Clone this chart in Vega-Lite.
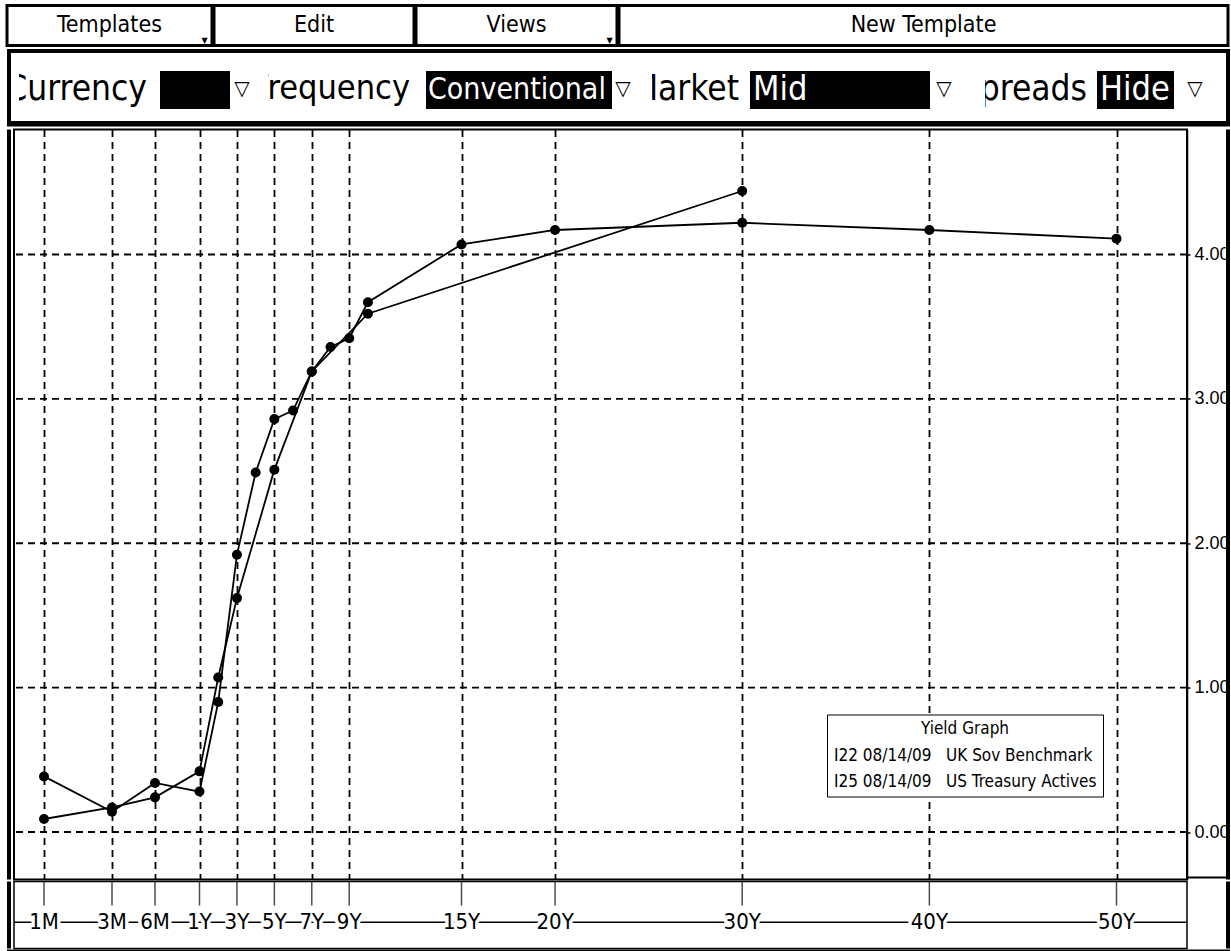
{
  "$schema": "https://vega.github.io/schema/vega-lite/v6.json",
  "padding": {"left": 5, "top": 3.5, "right": 0, "bottom": 0},
  "background": "white",
  "spacing": 1.5,
  "config": {"view": {"stroke": null}},
  "resolve": {"scale": {"color": "independent"}, "legend": {"color": "independent"}},
  "vconcat": [
    {
      "hconcat": [
        {"width": 205, "height": 40, "view": {"stroke": "black", "strokeWidth": 3, "fill": "white"}, "data": {"values": [{"t": "Templates"}]},
         "layer": [
           {"mark": {"type": "text", "font": "DejaVu Sans Condensed, sans-serif", "fontSize": 23, "baseline": "middle", "dy": -1, "color": "black"}, "encoding": {"text": {"field": "t"}}},
           {"mark": {"type": "text", "text": "▼", "font": "DejaVu Sans", "fontSize": 8, "dx": 95, "dy": 15, "color": "black"}, "encoding": {}}
         ]},
        {"width": 200, "height": 40, "view": {"stroke": "black", "strokeWidth": 3, "fill": "white"}, "data": {"values": [{"t": "Edit"}]},
         "mark": {"type": "text", "font": "DejaVu Sans Condensed, sans-serif", "fontSize": 23, "baseline": "middle", "dy": -1, "color": "black"}, "encoding": {"text": {"field": "t"}}},
        {"width": 201, "height": 40, "view": {"stroke": "black", "strokeWidth": 3, "fill": "white"}, "data": {"values": [{"t": "Views"}]},
         "layer": [
           {"mark": {"type": "text", "font": "DejaVu Sans Condensed, sans-serif", "fontSize": 23, "baseline": "middle", "dy": -1, "color": "black"}, "encoding": {"text": {"field": "t"}}},
           {"mark": {"type": "text", "text": "▼", "font": "DejaVu Sans", "fontSize": 8, "dx": 93, "dy": 15, "color": "black"}, "encoding": {}}
         ]},
        {"width": 609, "height": 40, "view": {"stroke": "black", "strokeWidth": 3, "fill": "white"}, "data": {"values": [{"t": "New Template"}]},
         "mark": {"type": "text", "font": "DejaVu Sans Condensed, sans-serif", "fontSize": 23, "baseline": "middle", "dy": -1, "color": "black"}, "encoding": {"text": {"field": "t"}}}
      ],
      "spacing": 2,
      "bounds": "flush"
    },
    {
      "vconcat": [
        {"width": 1223, "height": 4, "view": {"fill": "black"}, "data": {"values": [{}]}, "mark": {"type": "text", "text": "", "fontSize": 0}, "encoding": {}},
        {
          "hconcat": [
            {"width": 4, "height": 68, "view": {"fill": "black"}, "data": {"values": [{}]}, "mark": {"type": "text", "text": "", "fontSize": 0}, "encoding": {}},
            {"width": 8, "height": 68, "data": {"values": [{}]}, "mark": {"type": "text", "text": "", "fontSize": 0}, "encoding": {}},
            {"width": 141, "height": 68, "data": {"values": [{"t": "Currency"}]}, "mark": {"type": "text", "font": "DejaVu Sans Condensed, sans-serif", "fontSize": 35, "align": "right", "baseline": "middle", "dx": 57.5, "dy": 2, "clip": true, "color": "black"}, "encoding": {"text": {"field": "t"}}},
            {"width": 70, "height": 68, "data": {"values": [{"k": "b"}]},
             "mark": {"type": "rect", "color": "black"}, "encoding": {"y": {"field": "k", "type": "nominal", "axis": null, "scale": {"paddingInner": 0, "paddingOuter": 0.395, "align": 0.6}}}},
            {"width": 38, "height": 68, "data": {"values": [{}]}, "mark": {"type": "text", "text": "▽", "font": "DejaVu Sans", "fontSize": 20, "baseline": "middle", "dx": -7, "dy": 2, "color": "black"}, "encoding": {}},
            {"width": 158, "height": 68, "data": {"values": [{"t": "Frequency"}]}, "mark": {"type": "text", "font": "DejaVu Sans Condensed, sans-serif", "fontSize": 34, "align": "right", "baseline": "middle", "dx": 63, "dy": 2, "clip": true, "color": "black"}, "encoding": {"text": {"field": "t"}}},
            {"width": 186, "height": 68, "data": {"values": [{"k": "b", "t": "Conventional"}]},
             "layer": [
               {"mark": {"type": "rect", "color": "black"}, "encoding": {"y": {"field": "k", "type": "nominal", "axis": null, "scale": {"paddingInner": 0, "paddingOuter": 0.395, "align": 0.6}}}},
               {"mark": {"type": "text", "font": "DejaVu Sans Condensed, sans-serif", "fontSize": 30, "align": "left", "baseline": "middle", "dx": -91, "dy": 3, "clip": true, "color": "white"}, "encoding": {"text": {"field": "t"}}}
             ]},
            {"width": 40, "height": 68, "data": {"values": [{}]}, "mark": {"type": "text", "text": "▽", "font": "DejaVu Sans", "fontSize": 20, "baseline": "middle", "dx": -9, "dy": 2, "color": "black"}, "encoding": {}},
            {"width": 98, "height": 68, "data": {"values": [{"t": "Market"}]}, "mark": {"type": "text", "font": "DejaVu Sans Condensed, sans-serif", "fontSize": 35, "align": "right", "baseline": "middle", "dx": 38, "dy": 2, "clip": true, "color": "black"}, "encoding": {"text": {"field": "t"}}},
            {"width": 180, "height": 68, "data": {"values": [{"k": "b", "t": "Mid"}]},
             "layer": [
               {"mark": {"type": "rect", "color": "black"}, "encoding": {"y": {"field": "k", "type": "nominal", "axis": null, "scale": {"paddingInner": 0, "paddingOuter": 0.395, "align": 0.6}}}},
               {"mark": {"type": "text", "font": "DejaVu Sans Condensed, sans-serif", "fontSize": 34, "align": "left", "baseline": "middle", "dx": -87, "dy": 3, "clip": true, "color": "white"}, "encoding": {"text": {"field": "t"}}}
             ]},
            {"width": 55, "height": 68, "data": {"values": [{}]}, "mark": {"type": "text", "text": "▽", "font": "DejaVu Sans", "fontSize": 20, "baseline": "middle", "dx": -13.5, "dy": 2, "color": "black"}, "encoding": {}},
            {"width": 112, "height": 68, "data": {"values": [{"t": "Spreads"}]}, "mark": {"type": "text", "font": "DejaVu Sans Condensed, sans-serif", "fontSize": 35, "align": "right", "baseline": "middle", "dx": 46, "dy": 2, "clip": true, "color": "black"}, "encoding": {"text": {"field": "t"}}},
            {"width": 77, "height": 68, "data": {"values": [{"k": "b", "t": "Hide"}]},
             "layer": [
               {"mark": {"type": "rect", "color": "black"}, "encoding": {"y": {"field": "k", "type": "nominal", "axis": null, "scale": {"paddingInner": 0, "paddingOuter": 0.395, "align": 0.6}}}},
               {"mark": {"type": "text", "font": "DejaVu Sans Condensed, sans-serif", "fontSize": 34, "align": "left", "baseline": "middle", "dx": -35.5, "dy": 3, "clip": true, "color": "white"}, "encoding": {"text": {"field": "t"}}}
             ]},
            {"width": 52, "height": 68, "data": {"values": [{}]}, "mark": {"type": "text", "text": "▽", "font": "DejaVu Sans", "fontSize": 20, "baseline": "middle", "dx": -5, "dy": 2, "color": "black"}, "encoding": {}},
            {"width": 4, "height": 68, "view": {"fill": "black"}, "data": {"values": [{}]}, "mark": {"type": "text", "text": "", "fontSize": 0}, "encoding": {}}
          ],
          "spacing": 0,
          "bounds": "flush"
        },
        {"width": 1223, "height": 5.5, "view": {"fill": "black"}, "data": {"values": [{}]}, "mark": {"type": "text", "text": "", "fontSize": 0}, "encoding": {}}
      ],
      "spacing": 0
    },
    {
      "vconcat": [
        {
          "hconcat": [
            {"width": 4, "height": 750, "view": {"fill": "black"}, "data": {"values": [{}]}, "mark": {"type": "text", "text": "", "fontSize": 0}, "encoding": {}},
            {"width": 3, "height": 750, "data": {"values": [{}]}, "mark": {"type": "text", "text": "", "fontSize": 0}, "encoding": {}},
            {
              "width": 1173,
              "height": 750,
              "view": {"stroke": "black", "strokeWidth": 2},
              "data": {"values": [
                {"series": "I22 08/14/09\u00a0\u00a0\u00a0UK Sov Benchmark", "tenor": 0.0833, "yield": 0.385},
                {"series": "I22 08/14/09\u00a0\u00a0\u00a0UK Sov Benchmark", "tenor": 0.25, "yield": 0.14},
                {"series": "I22 08/14/09\u00a0\u00a0\u00a0UK Sov Benchmark", "tenor": 0.5, "yield": 0.34},
                {"series": "I22 08/14/09\u00a0\u00a0\u00a0UK Sov Benchmark", "tenor": 1, "yield": 0.28},
                {"series": "I22 08/14/09\u00a0\u00a0\u00a0UK Sov Benchmark", "tenor": 2, "yield": 0.9},
                {"series": "I22 08/14/09\u00a0\u00a0\u00a0UK Sov Benchmark", "tenor": 3, "yield": 1.92},
                {"series": "I22 08/14/09\u00a0\u00a0\u00a0UK Sov Benchmark", "tenor": 4, "yield": 2.49},
                {"series": "I22 08/14/09\u00a0\u00a0\u00a0UK Sov Benchmark", "tenor": 5, "yield": 2.86},
                {"series": "I22 08/14/09\u00a0\u00a0\u00a0UK Sov Benchmark", "tenor": 6, "yield": 2.92},
                {"series": "I22 08/14/09\u00a0\u00a0\u00a0UK Sov Benchmark", "tenor": 7, "yield": 3.19},
                {"series": "I22 08/14/09\u00a0\u00a0\u00a0UK Sov Benchmark", "tenor": 8, "yield": 3.36},
                {"series": "I22 08/14/09\u00a0\u00a0\u00a0UK Sov Benchmark", "tenor": 9, "yield": 3.42},
                {"series": "I22 08/14/09\u00a0\u00a0\u00a0UK Sov Benchmark", "tenor": 10, "yield": 3.67},
                {"series": "I22 08/14/09\u00a0\u00a0\u00a0UK Sov Benchmark", "tenor": 15, "yield": 4.07},
                {"series": "I22 08/14/09\u00a0\u00a0\u00a0UK Sov Benchmark", "tenor": 20, "yield": 4.17},
                {"series": "I22 08/14/09\u00a0\u00a0\u00a0UK Sov Benchmark", "tenor": 30, "yield": 4.22},
                {"series": "I22 08/14/09\u00a0\u00a0\u00a0UK Sov Benchmark", "tenor": 40, "yield": 4.17},
                {"series": "I22 08/14/09\u00a0\u00a0\u00a0UK Sov Benchmark", "tenor": 50, "yield": 4.11},
                {"series": "I25 08/14/09\u00a0\u00a0\u00a0US Treasury Actives", "tenor": 0.0833, "yield": 0.09},
                {"series": "I25 08/14/09\u00a0\u00a0\u00a0US Treasury Actives", "tenor": 0.25, "yield": 0.17},
                {"series": "I25 08/14/09\u00a0\u00a0\u00a0US Treasury Actives", "tenor": 0.5, "yield": 0.24},
                {"series": "I25 08/14/09\u00a0\u00a0\u00a0US Treasury Actives", "tenor": 1, "yield": 0.42},
                {"series": "I25 08/14/09\u00a0\u00a0\u00a0US Treasury Actives", "tenor": 2, "yield": 1.07},
                {"series": "I25 08/14/09\u00a0\u00a0\u00a0US Treasury Actives", "tenor": 3, "yield": 1.62},
                {"series": "I25 08/14/09\u00a0\u00a0\u00a0US Treasury Actives", "tenor": 5, "yield": 2.51},
                {"series": "I25 08/14/09\u00a0\u00a0\u00a0US Treasury Actives", "tenor": 7, "yield": 3.19},
                {"series": "I25 08/14/09\u00a0\u00a0\u00a0US Treasury Actives", "tenor": 10, "yield": 3.59},
                {"series": "I25 08/14/09\u00a0\u00a0\u00a0US Treasury Actives", "tenor": 30, "yield": 4.44}
              ]},
              "layer": [
                {"data": {"values": [{"v": 0}, {"v": 1}, {"v": 2}, {"v": 3}, {"v": 4}]},
                 "mark": {"type": "rule", "color": "black", "strokeDash": [7, 5], "strokeWidth": 1.8},
                 "encoding": {"y": {"field": "v", "type": "quantitative",
                   "scale": {"domain": [-0.329, 4.866], "nice": false, "zero": false},
                   "axis": {"orient": "right", "values": [0, 1, 2, 3, 4], "format": ".2f", "grid": false, "domain": true, "domainColor": "black", "domainWidth": 1.5, "ticks": true, "tickSize": 3, "tickColor": "black", "tickWidth": 1.5, "labelFont": "Liberation Sans, Arial, sans-serif", "labelFontSize": 18, "labelColor": "black", "labelPadding": 4, "labelAlign": "left", "labelBaseline": "middle", "title": null}}}},
                {"mark": {"type": "line", "strokeWidth": 1.8},
                 "encoding": {
                   "x": {"field": "tenor", "type": "quantitative",
                         "scale": {"type": "linear", "domain": [0.0833, 0.25, 0.5, 1, 50], "range": [30, 98, 141, 185.5, 1102.5], "nice": false, "zero": false},
                         "axis": {"orient": "bottom", "values": [0.0833, 0.25, 0.5, 1, 3, 5, 7, 9, 15, 20, 30, 40, 50], "labels": false, "ticks": false, "domain": false, "grid": true, "gridColor": "black", "gridDash": [7, 5], "gridWidth": 1.8, "gridOpacity": 1, "title": null}},
                   "y": {"field": "yield", "type": "quantitative",
                         "axis": {"orient": "right", "values": [0, 1, 2, 3, 4], "format": ".2f", "grid": false, "domain": true, "domainColor": "black", "domainWidth": 1.5, "ticks": true, "tickSize": 3, "tickColor": "black", "tickWidth": 1.5, "labelFont": "Liberation Sans, Arial, sans-serif", "labelFontSize": 18, "labelColor": "black", "labelPadding": 4, "labelAlign": "left", "labelBaseline": "middle", "title": null}},
                   "color": {"field": "series", "type": "nominal", "scale": {"range": ["black", "black"]},
                             "legend": {"title": "Yield Graph", "orient": "none", "legendX": 813, "legendY": 585, "titleAnchor": "middle", "titleAlign": "center", "titleFont": "DejaVu Sans Condensed, sans-serif", "titleFontSize": 17, "titleFontWeight": "normal", "titleColor": "black", "titlePadding": 10, "labelFont": "DejaVu Sans Condensed, sans-serif", "labelFontSize": 17, "labelColor": "black", "labelLimit": 500, "labelOffset": -16, "symbolSize": 0, "symbolOpacity": 0, "symbolStrokeWidth": 0, "rowPadding": 8, "padding": 6, "strokeColor": "black", "fillColor": "white"}}
                 }},
                {"mark": {"type": "point", "filled": true, "shape": "circle", "size": 100, "opacity": 1},
                 "encoding": {
                   "x": {"field": "tenor", "type": "quantitative",
                         "axis": {"orient": "bottom", "values": [0.0833, 0.25, 0.5, 1, 3, 5, 7, 9, 15, 20, 30, 40, 50], "labels": false, "ticks": false, "domain": false, "grid": true, "gridColor": "black", "gridDash": [7, 5], "gridWidth": 1.8, "gridOpacity": 1, "title": null}},
                   "y": {"field": "yield", "type": "quantitative",
                         "axis": {"orient": "right", "values": [0, 1, 2, 3, 4], "format": ".2f", "grid": false, "domain": true, "domainColor": "black", "domainWidth": 1.5, "ticks": true, "tickSize": 3, "tickColor": "black", "tickWidth": 1.5, "labelFont": "Liberation Sans, Arial, sans-serif", "labelFontSize": 18, "labelColor": "black", "labelPadding": 4, "labelAlign": "left", "labelBaseline": "middle", "title": null}},
                   "color": {"field": "series", "type": "nominal", "legend": {"title": "Yield Graph", "orient": "none", "legendX": 813, "legendY": 585, "titleAnchor": "middle", "titleAlign": "center", "titleFont": "DejaVu Sans Condensed, sans-serif", "titleFontSize": 17, "titleFontWeight": "normal", "titleColor": "black", "titlePadding": 10, "labelFont": "DejaVu Sans Condensed, sans-serif", "labelFontSize": 17, "labelColor": "black", "labelLimit": 500, "labelOffset": -16, "symbolSize": 0, "symbolOpacity": 0, "symbolStrokeWidth": 0, "rowPadding": 8, "padding": 6, "strokeColor": "black", "fillColor": "white"}}
                 }}
              ]
            },
            {"width": 39, "height": 750, "data": {"values": [{}]}, "mark": {"type": "rule", "color": "black", "strokeWidth": 2},
             "encoding": {"y": {"datum": 0.0027, "type": "quantitative", "scale": {"domain": [0, 1], "nice": false, "zero": false}, "axis": null}}},
            {"width": 4, "height": 750, "view": {"fill": "black"}, "data": {"values": [{}]}, "mark": {"type": "text", "text": "", "fontSize": 0}, "encoding": {}}
          ],
          "spacing": 0,
          "bounds": "flush",
          "resolve": {"scale": {"color": "independent"}, "legend": {"color": "independent"}}
        },
        {
          "hconcat": [
            {"width": 4, "height": 67, "view": {"fill": "black"}, "data": {"values": [{}]}, "mark": {"type": "text", "text": "", "fontSize": 0}, "encoding": {}},
            {"width": 3, "height": 67, "data": {"values": [{}]}, "mark": {"type": "text", "text": "", "fontSize": 0}, "encoding": {}},
            {
              "width": 1173,
              "height": 67,
              "view": {"stroke": "black", "strokeWidth": 1.5},
              "data": {"values": [
                {"tenor": 0.0833, "label": "1M"},
                {"tenor": 0.25, "label": "3M"},
                {"tenor": 0.5, "label": "6M"},
                {"tenor": 1, "label": "1Y"},
                {"tenor": 3, "label": "3Y"},
                {"tenor": 5, "label": "5Y"},
                {"tenor": 7, "label": "7Y"},
                {"tenor": 9, "label": "9Y"},
                {"tenor": 15, "label": "15Y"},
                {"tenor": 20, "label": "20Y"},
                {"tenor": 30, "label": "30Y"},
                {"tenor": 40, "label": "40Y"},
                {"tenor": 50, "label": "50Y"}
              ]},
              "layer": [
                {"data": {"values": [{}]}, "mark": {"type": "rule", "color": "black", "strokeWidth": 1.5},
                 "encoding": {"y": {"datum": 0.39, "type": "quantitative", "scale": {"domain": [0, 1], "nice": false, "zero": false}, "axis": null}}},
                {"mark": {"type": "tick", "orient": "vertical", "size": 24, "thickness": 1.5, "color": "black"},
                 "encoding": {
                   "x": {"field": "tenor", "type": "quantitative", "scale": {"type": "linear", "domain": [0.0833, 0.25, 0.5, 1, 50], "range": [30, 98, 141, 185.5, 1102.5], "nice": false, "zero": false}, "axis": null},
                   "y": {"datum": 0.82, "type": "quantitative", "axis": null}}},
                {"mark": {"type": "text", "font": "DejaVu Sans Condensed, sans-serif", "fontSize": 22, "fill": "white", "stroke": "white", "strokeWidth": 7, "strokeJoin": "round", "baseline": "middle"},
                 "encoding": {
                   "x": {"field": "tenor", "type": "quantitative", "axis": null},
                   "y": {"datum": 0.39, "type": "quantitative", "axis": null},
                   "text": {"field": "label"}}},
                {"mark": {"type": "text", "font": "DejaVu Sans Condensed, sans-serif", "fontSize": 22, "color": "black", "baseline": "middle"},
                 "encoding": {
                   "x": {"field": "tenor", "type": "quantitative", "axis": null},
                   "y": {"datum": 0.39, "type": "quantitative", "axis": null},
                   "text": {"field": "label"}}}
              ]
            },
            {"width": 39, "height": 67, "data": {"values": [{}]}, "mark": {"type": "text", "text": "", "fontSize": 0}, "encoding": {}},
            {"width": 4, "height": 67, "view": {"fill": "black"}, "data": {"values": [{}]}, "mark": {"type": "text", "text": "", "fontSize": 0}, "encoding": {}}
          ],
          "spacing": 0,
          "bounds": "flush"
        },
        {"width": 1223, "height": 3, "view": {"fill": "black"}, "data": {"values": [{}]}, "mark": {"type": "text", "text": "", "fontSize": 0}, "encoding": {}}
      ],
      "spacing": 0,
      "resolve": {"scale": {"color": "independent"}, "legend": {"color": "independent"}}
    }
  ]
}
